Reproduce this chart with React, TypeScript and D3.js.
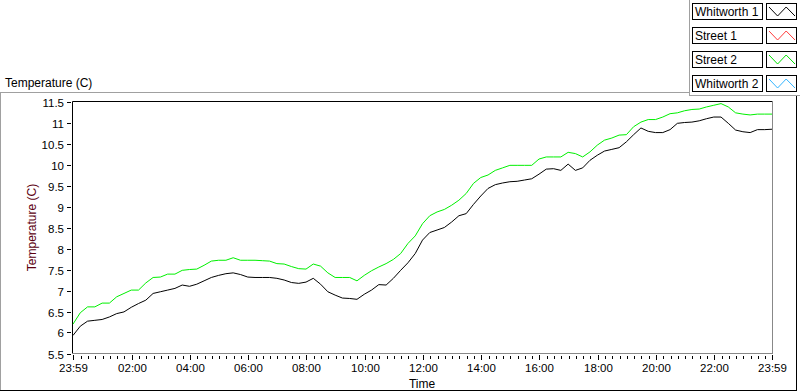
import * as d3 from "d3";
import { useEffect, useRef } from "react";

// samples every 15 minutes, 23:59 -> 23:59 next day
const sampleStepMinutes = 15;
const whitworth1 = [
  5.93, 6.15, 6.27, 6.29, 6.31, 6.37, 6.45, 6.49, 6.6, 6.69, 6.77, 6.93, 6.97, 7.01, 7.05, 7.13, 7.1,
  7.15, 7.23, 7.31, 7.36, 7.4, 7.42, 7.38, 7.32, 7.31, 7.31, 7.31, 7.29, 7.25, 7.19, 7.17,
  7.2, 7.29, 7.15, 6.97, 6.89, 6.82, 6.81, 6.79, 6.91, 7.01, 7.14, 7.13, 7.29, 7.48, 7.66, 7.88,
  8.2, 8.38, 8.44, 8.5, 8.63, 8.78, 8.83, 9.05, 9.25, 9.43, 9.52, 9.56, 9.59, 9.6, 9.63, 9.66,
  9.77, 9.89, 9.9, 9.86, 10.01, 9.86, 9.92, 10.1, 10.22, 10.32, 10.36, 10.4, 10.54, 10.71, 10.87, 10.79,
  10.76, 10.76, 10.83, 10.98, 11.0, 11.01, 11.04, 11.09, 11.13, 11.13, 10.98, 10.82, 10.78, 10.76, 10.83, 10.83, 10.84,
];
const street2 = [
  6.2, 6.47, 6.61, 6.61, 6.7, 6.7, 6.85, 6.93, 7.01, 7.01, 7.18, 7.31, 7.32, 7.39, 7.39, 7.48, 7.5,
  7.51, 7.6, 7.7, 7.72, 7.72, 7.78, 7.72, 7.72, 7.72, 7.71, 7.7, 7.64, 7.63, 7.57, 7.52,
  7.51, 7.63, 7.58, 7.42, 7.31, 7.31, 7.31, 7.23, 7.36, 7.47, 7.56, 7.64, 7.74, 7.88, 8.12, 8.3,
  8.59, 8.78, 8.87, 8.93, 9.03, 9.15, 9.31, 9.55, 9.69, 9.75, 9.86, 9.92, 9.98, 9.98, 9.98, 9.98,
  10.13, 10.18, 10.18, 10.18, 10.29, 10.26, 10.18, 10.3, 10.46, 10.58, 10.63, 10.7, 10.71, 10.9, 11.01, 11.07,
  11.07, 11.13, 11.21, 11.23, 11.28, 11.31, 11.32, 11.37, 11.41, 11.45, 11.37, 11.23, 11.2, 11.18, 11.2, 11.2, 11.2,
];
const legendNames = ["Whitworth 1", "Street 1", "Street 2", "Whitworth 2"];
const legendColors = ["#000000", "#ff3b3b", "#00e000", "#33b5ff"];
const yTicks = [5.5, 6, 6.5, 7, 7.5, 8, 8.5, 9, 9.5, 10, 10.5, 11, 11.5];
const xTickHours = [2, 4, 6, 8, 10, 12, 14, 16, 18, 20, 22];

const FONT = "'Liberation Sans', Arial, sans-serif";

const App = () => {
  const ref = useRef<SVGSVGElement>(null);
  const width = 800;
  const height = 392;

  useEffect(() => {
    const svg = d3.select(ref.current);
    svg.selectAll("*").remove();

    const plot = { left: 72.5, right: 772.5, top: 101.5, bottom: 353.5 };
    const start = new Date(2020, 0, 1, 23, 59);
    const end = new Date(2020, 0, 2, 23, 59);

    const x = d3.scaleTime().domain([start, end]).range([73, 772]);
    const y = d3.scaleLinear().domain([5.5, 11.5]).range([plot.bottom, plot.top]);

    const timeAt = (i: number) => d3.timeMinute.offset(start, i * sampleStepMinutes);

    // outer panel frame
    svg.append("line").attr("x1", 0).attr("x2", 689).attr("y1", 92.5).attr("y2", 92.5).attr("stroke", "#a0a0a0");
    svg.append("line").attr("x1", 0.5).attr("x2", 0.5).attr("y1", 92).attr("y2", 391).attr("stroke", "#a0a0a0");
    svg.append("line").attr("x1", 0).attr("x2", 797).attr("y1", 390.5).attr("y2", 390.5).attr("stroke", "#000");
    svg.append("line").attr("x1", 796.5).attr("x2", 796.5).attr("y1", 96).attr("y2", 391).attr("stroke", "#000");

    // legend panel
    svg.append("line").attr("x1", 689.5).attr("x2", 689.5).attr("y1", 0).attr("y2", 96).attr("stroke", "#a0a0a0");
    svg.append("line").attr("x1", 689).attr("x2", 800).attr("y1", 95.5).attr("y2", 95.5).attr("stroke", "#a0a0a0");

    svg
      .append("text")
      .attr("x", 5)
      .attr("y", 87)
      .attr("font-family", FONT)
      .attr("font-size", 12)
      .attr("fill", "#000")
      .text("Temperature (C)");

    // plot background + frame
    svg.append("rect").attr("x", plot.left).attr("y", plot.top).attr("width", plot.right - plot.left).attr("height", plot.bottom - plot.top).attr("fill", "#fff");
    svg.append("line").attr("x1", plot.left).attr("x2", plot.right).attr("y1", plot.top).attr("y2", plot.top).attr("stroke", "#000");
    svg.append("line").attr("x1", plot.left).attr("x2", plot.left).attr("y1", plot.top).attr("y2", plot.bottom).attr("stroke", "#000");
    svg.append("line").attr("x1", plot.right).attr("x2", plot.right).attr("y1", plot.top).attr("y2", plot.bottom + 0.5).attr("stroke", "#888");
    svg.append("line").attr("x1", plot.left).attr("x2", plot.right).attr("y1", plot.bottom).attr("y2", plot.bottom).attr("stroke", "#888");

    // y axis
    const yAxis = svg.append("g").attr("font-family", FONT).attr("font-size", 11.5);
    yTicks.forEach((t) => {
      const yy = Math.round(y(t)) + 0.5;
      yAxis.append("line").attr("x1", 67).attr("x2", 71).attr("y1", yy).attr("y2", yy).attr("stroke", "#000");
      yAxis
        .append("text")
        .attr("x", 64)
        .attr("y", yy + 4)
        .attr("text-anchor", "end")
        .attr("fill", "#000")
        .text(d3.format("~g")(t));
    });
    svg
      .append("text")
      .attr("transform", `translate(36, ${(plot.top + plot.bottom) / 2}) rotate(-90)`)
      .attr("text-anchor", "middle")
      .attr("font-family", FONT)
      .attr("font-size", 12)
      .attr("fill", "#5c0010")
      .text("Temperature (C)");

    // x axis
    const majors = [start, ...xTickHours.map((h) => new Date(2020, 0, 2, h, 0)), end];
    const minors = d3.timeMinute.every(15)!.range(d3.timeMinute.offset(start, 2), end);
    const xAxis = svg.append("g").attr("font-family", FONT).attr("font-size", 11.5);
    minors.forEach((t) => {
      const xx = Math.round(x(t)) + 0.5;
      xAxis.append("line").attr("x1", xx).attr("x2", xx).attr("y1", 356).attr("y2", 359).attr("stroke", "#000");
    });
    majors.forEach((t, i) => {
      const xx = Math.round(x(t)) + 0.5;
      xAxis.append("line").attr("x1", xx).attr("x2", xx).attr("y1", 355).attr("y2", 360).attr("stroke", "#000");
      xAxis
        .append("text")
        .attr("x", xx)
        .attr("y", 372)
        .attr("text-anchor", "middle")
        .attr("fill", "#000")
        .text(i === 0 || i === majors.length - 1 ? "23:59" : d3.timeFormat("%H:%M")(t));
    });
    svg
      .append("text")
      .attr("x", 422)
      .attr("y", 388)
      .attr("text-anchor", "middle")
      .attr("font-family", FONT)
      .attr("font-size", 12)
      .attr("fill", "#000")
      .text("Time");

    // data lines
    const line = d3
      .line<number>()
      .x((_, i) => x(timeAt(i)))
      .y((d) => y(d));
    svg
      .append("path")
      .datum(street2)
      .attr("d", line)
      .attr("fill", "none")
      .attr("stroke", "#00f000")
      .attr("stroke-width", 1);
    svg
      .append("path")
      .datum(whitworth1)
      .attr("d", line)
      .attr("fill", "none")
      .attr("stroke", "#000")
      .attr("stroke-width", 1);

    // legend
    const zig = [
      [0, 1],
      [0.33, 0],
      [0.66, 1],
      [1, 0],
    ];
    legendNames.forEach((name, i) => {
      const top = 3 + i * 24;
      const g = svg.append("g");
      g.append("rect").attr("x", 692.5).attr("y", top + 0.5).attr("width", 70).attr("height", 16).attr("fill", "#fff").attr("stroke", "#000");
      g.append("text")
        .attr("x", 695)
        .attr("y", top + 13)
        .attr("font-family", FONT)
        .attr("font-size", 12)
        .attr("fill", "#000")
        .text(name);
      g.append("rect").attr("x", 766.5).attr("y", top + 0.5).attr("width", 30).attr("height", 16).attr("fill", "#fff").attr("stroke", "#000");
      const zx = d3.scaleLinear().range([769, 795]);
      const zy = d3.scaleLinear().range([top + 4, top + 13]);
      g.append("path")
        .attr("d", d3.line()(zig.map(([a, b]) => [zx(a), zy(1 - b)]) as [number, number][]))
        .attr("fill", "none")
        .attr("stroke", legendColors[i]);
    });
  }, []);

  return (
    <svg
      ref={ref}
      width={width}
      height={height}
      viewBox={`0 0 ${width} ${height}`}
      style={{ position: "absolute", left: 0, top: 0, background: "#fff" }}
    ></svg>
  );
};

export default App;
